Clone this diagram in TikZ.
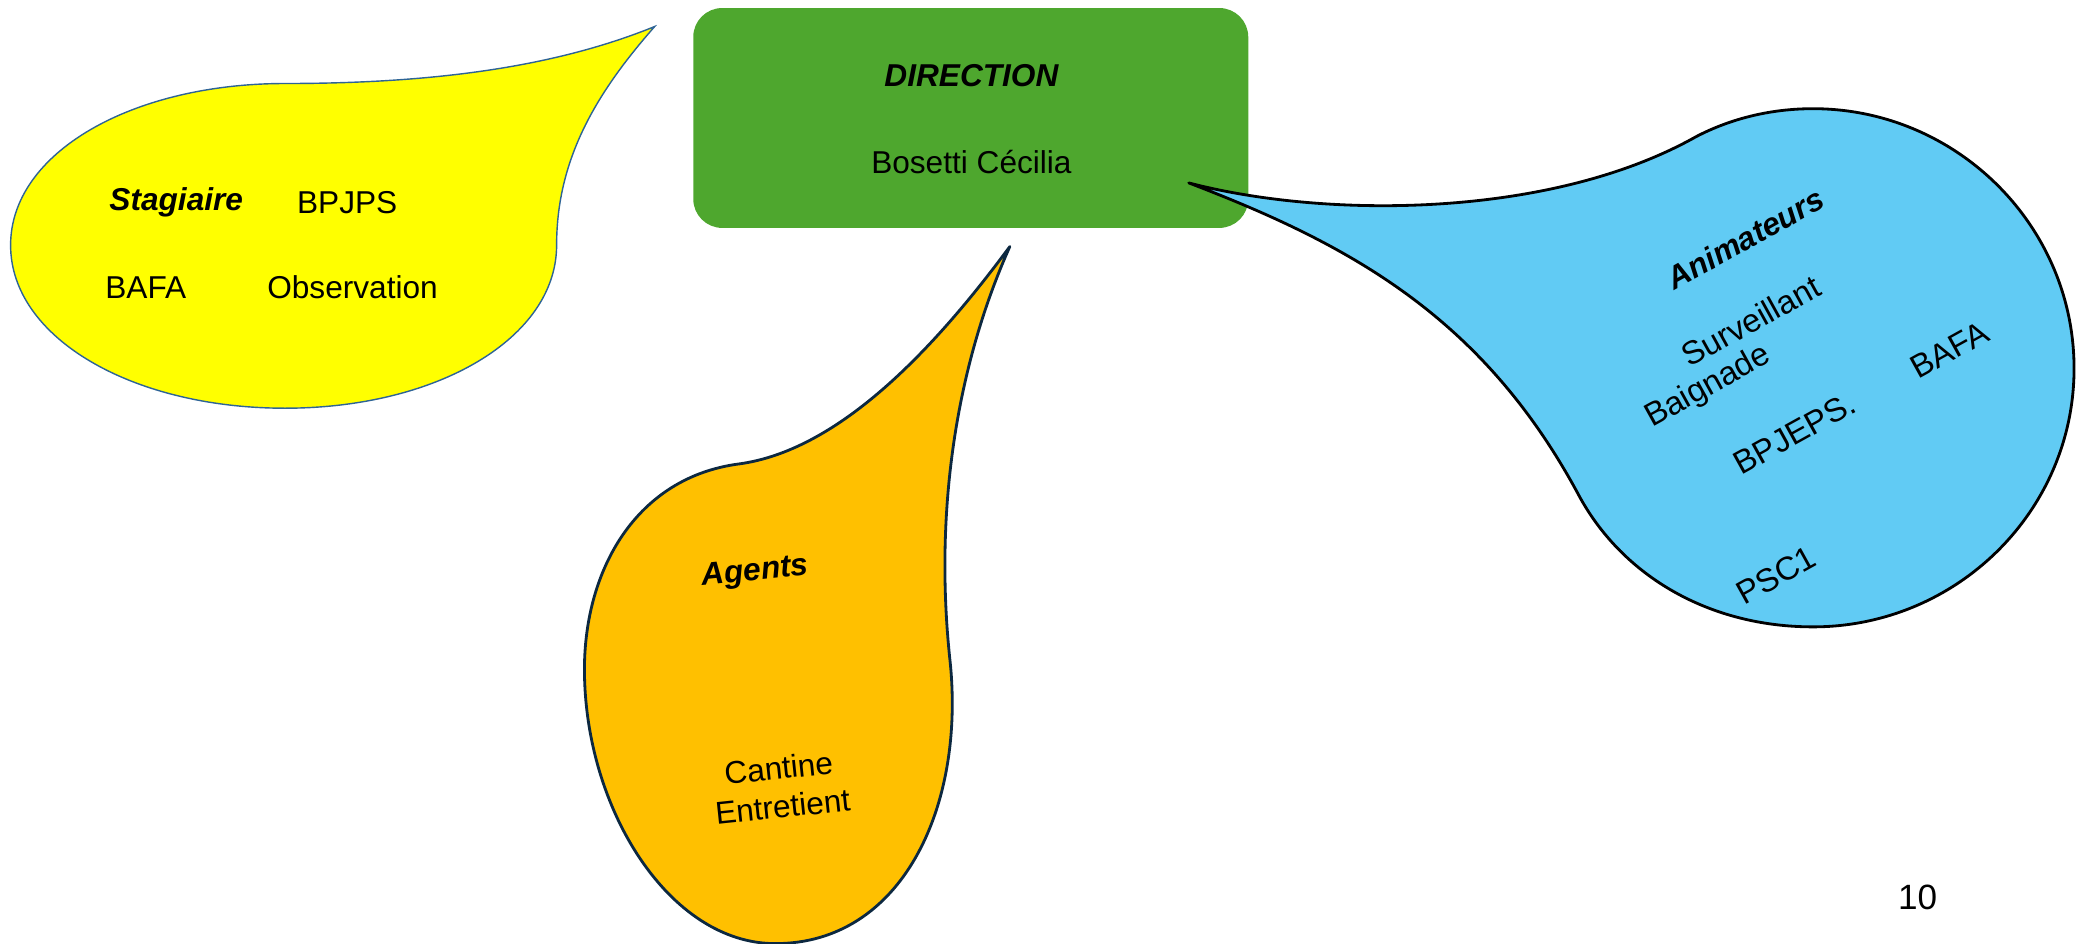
\documentclass[tikz,border=0pt]{standalone}
\usepackage{fontspec}
\setmainfont{Liberation Sans}
\definecolor{dgreen}{RGB}{78,167,46}
\definecolor{byellow}{RGB}{255,255,0}
\definecolor{borange}{RGB}{255,192,0}
\definecolor{lblue}{RGB}{97,203,244}
\definecolor{yline}{RGB}{46,100,150}
\definecolor{oline}{RGB}{12,40,64}
\begin{document}
\begin{tikzpicture}[x=0.013253cm,y=-0.013253cm,
  txt/.style={font=\fontsize{9}{11}\selectfont, inner sep=0pt},
  ttl/.style={font=\fontsize{9}{11}\selectfont\bfseries\itshape, inner sep=0pt},
  btxt/.style={font=\fontsize{9.3}{11}\selectfont, inner sep=0pt, rotate=29},
  bubble/.style={line width=0.8pt, line join=round}]
\useasboundingbox (0,0) rectangle (1568,712);

% yellow bubble
\draw[fill=byellow, draw=yline, line width=0.4pt]
  (494,20) .. controls (450,70) and (420,120) .. (420,185)
  .. controls (420,255) and (330,308) .. (215,308)
  .. controls (100,308) and (8,255) .. (8,185)
  .. controls (8,115) and (100,63) .. (215,63)
  .. controls (330,63) and (420,50) .. (494,20) -- cycle;

% green box
\node[fill=dgreen, rounded corners=0.29cm, minimum width=5.553cm, minimum height=2.2cm, inner sep=0pt] (dir) at (732.5,89) {};
\node[ttl] (dirt) at (733,57) {DIRECTION};
\node[txt] (name) at (733,122) {Bosetti Cécilia};

% orange bubble
\draw[bubble, fill=borange, draw=oline]
  (762,186) .. controls (700,270) and (630,340) .. (558,350)
  .. controls (480,360) and (441,430) .. (441,505)
  .. controls (441,610) and (505,712) .. (585,712)
  .. controls (680,712) and (728,610) .. (717,500)
  .. controls (705,390) and (720,280) .. (762,186) -- cycle;

% blue bubble
\draw[bubble, fill=lblue, draw=black]
  (897,138) .. controls (1000,165) and (1170,165) .. (1280,103)
  .. controls (1305,90) and (1335,82) .. (1368,82)
  .. controls (1476,82) and (1565,170) .. (1565,278)
  .. controls (1565,386) and (1476,473) .. (1368,473)
  .. controls (1290,473) and (1225,435) .. (1192,375)
  .. controls (1120,240) and (1020,185) .. (897,138) -- cycle;

% yellow texts
\node[ttl] (stag) at (133,153) {Stagiaire};
\node[txt] (bpjps) at (262,153) {BPJPS};
\node[txt] (bafa1) at (110,217) {BAFA};
\node[txt] (obs) at (266,217) {Observation};

% orange texts
\node[ttl, rotate=6] (agents) at (570,432) {Agents};
\node[txt, rotate=6, align=center] (cant) at (589,594) {Cantine\\Entretient};

% blue texts
\node[ttl, rotate=29] (anim) at (1317,180) {Animateurs};
\node[btxt] (surv) at (1321,242) {Surveillant};
\node[btxt] (baig) at (1289,292) {Baignade};
\node[btxt] (bafa2) at (1471,264) {BAFA};
\node[btxt] (bpjeps) at (1354,327) {BPJEPS.};
\node[btxt] (psc) at (1340,434) {PSC1};

% page number
\node[font=\fontsize{10}{12}\selectfont, inner sep=0pt] (page) at (1447,677) {10};
\end{tikzpicture}
\end{document}
